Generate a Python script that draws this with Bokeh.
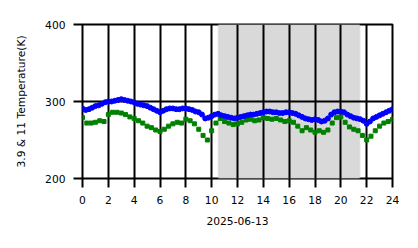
from bokeh.plotting import figure
from bokeh.models import Range1d, FixedTicker, BoxAnnotation, ColumnDataSource
from bokeh.embed import file_html
from bokeh.resources import INLINE

# Observation date
date_label = "2025-06-13"
y_label = "3.9 & 11 Temperature(K)"

# 3.9 µm-band brightness temperature (K), every 15 minutes from 00:00 to 24:00
blue_temp = [
    291, 289, 290, 292,
    294, 295, 297, 299,
    300, 300, 301, 302,
    303, 302, 301, 300,
    299, 297, 296, 295,
    294, 292, 290, 288,
    286, 288, 290, 291,
    291, 290, 290, 291,
    291, 290, 289, 287,
    286, 283, 278, 279,
    281, 283, 284, 282,
    281, 280, 279, 278,
    279, 280, 281, 282,
    283, 283, 284, 285,
    286, 287, 287, 286,
    286, 285, 285, 286,
    286, 285, 284, 282,
    280, 278, 277, 276,
    277, 276, 274, 275,
    278, 283, 286, 287,
    287, 286, 283, 281,
    279, 278, 277, 275,
    271, 274, 278, 280,
    282, 284, 286, 288,
    290,
]
blue_hours = [i * 0.25 for i in range(len(blue_temp))]

# 11 µm-band brightness temperature (K), every 20 minutes from 00:00 to 24:00
green_temp = [
    279, 272, 272,
    273, 275, 274,
    283, 286, 286,
    285, 283, 280,
    278, 275, 272,
    268, 266, 263,
    261, 264, 268,
    271, 273, 272,
    277, 275, 271,
    264, 256, 250,
    262, 272, 278,
    274, 272, 270,
    271, 273, 276,
    277, 275, 276,
    279, 278, 277,
    278, 276, 274,
    275, 273, 268,
    262, 266, 263,
    260, 262, 260,
    263, 272, 279,
    280, 273, 267,
    264, 262, 256,
    250, 255, 262,
    268, 272, 274,
    277,
]
green_hours = [i / 3 for i in range(len(green_temp))]

# Shaded (night) interval, hours
shade_start = 10.53
shade_end = 21.45

x_ticks = [0, 2, 4, 6, 8, 10, 12, 14, 16, 18, 20, 22, 24]
y_ticks = [200, 300, 400]

FONT = "DejaVu Sans"
FS = "10.7px"

p = figure(
    width=418, height=248,
    x_range=Range1d(0, 24), y_range=Range1d(200, 400),
    output_backend="svg", toolbar_location=None,
    min_border_left=82, min_border_right=26,
    min_border_top=24, min_border_bottom=70,
)
p.background_fill_color = "white"
p.border_fill_color = "white"
p.outline_line_color = "black"
p.outline_line_width = 2

p.add_layout(BoxAnnotation(left=shade_start, right=shade_end,
                           fill_color="#d9d9d9", fill_alpha=1.0,
                           line_color="#c4c4c4", line_width=2,
                           level="image"))

for g in (p.xgrid, p.ygrid):
    g.grid_line_color = "black"
    g.grid_line_width = 2
    g.grid_line_alpha = 1.0
    g.level = "underlay"

p.xaxis.ticker = FixedTicker(ticks=x_ticks)
p.yaxis.ticker = FixedTicker(ticks=y_ticks)
p.xgrid.ticker = FixedTicker(ticks=x_ticks)
p.ygrid.ticker = FixedTicker(ticks=y_ticks)

for ax in (p.xaxis, p.yaxis):
    ax.axis_line_color = None
    ax.major_tick_line_color = "black"
    ax.major_tick_line_width = 2
    ax.major_tick_in = 0
    ax.major_tick_out = 9
    ax.minor_tick_line_color = None
    ax.major_label_text_font = FONT
    ax.major_label_text_font_size = FS
    ax.major_label_text_color = "black"
    ax.axis_label_text_font = FONT
    ax.axis_label_text_font_size = FS
    ax.axis_label_text_font_style = "normal"
    ax.axis_label_text_color = "black"
    ax.major_label_standoff = 8

p.xaxis.axis_label = date_label
p.xaxis.axis_label_standoff = 10
p.yaxis.axis_label = y_label
p.yaxis.axis_label_standoff = 14

green_src = ColumnDataSource(dict(x=green_hours, y=green_temp))
blue_src = ColumnDataSource(dict(x=blue_hours, y=blue_temp))

p.scatter("x", "y", source=green_src, marker="square", size=4,
          fill_color="green", line_color="green")
p.scatter("x", "y", source=blue_src, marker="circle", size=5,
          fill_color="blue", line_color="blue")

open("out.html", "w").write(file_html(p, INLINE))
